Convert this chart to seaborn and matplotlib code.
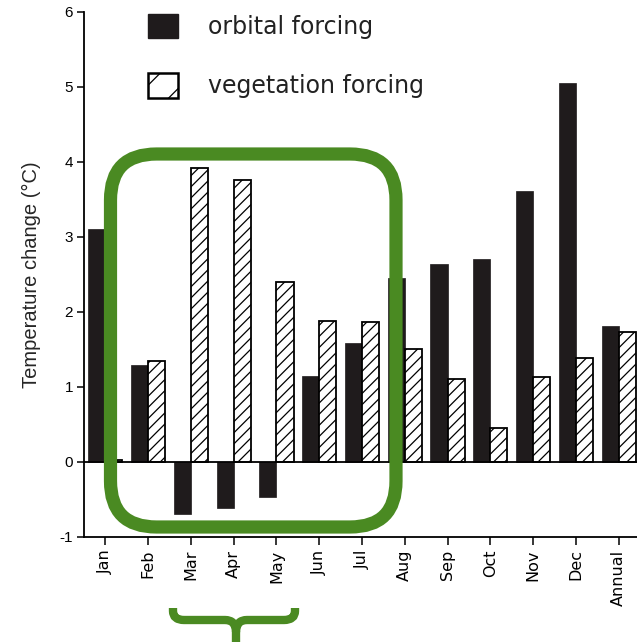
import matplotlib
matplotlib.use("Agg")
import matplotlib.pyplot as plt
import matplotlib.patches as mpatches
from matplotlib.path import Path
from matplotlib.transforms import IdentityTransform
import seaborn as sns
import pandas as pd

# Monthly and annual temperature change from each forcing (°C)
months = ["Jan", "Feb", "Mar", "Apr", "May", "Jun", "Jul",
          "Aug", "Sep", "Oct", "Nov", "Dec", "Annual"]
orbital = [3.10, 1.29, -0.70, -0.62, -0.47, 1.14, 1.58,
           2.45, 2.64, 2.70, 3.61, 5.05, 1.81]
vegetation = [0.02, 1.35, 3.91, 3.76, 2.40, 1.88, 1.86,
              1.50, 1.10, 0.45, 1.13, 1.38, 1.73]
series_names = ["orbital forcing", "vegetation forcing"]
y_ticks = [-1, 0, 1, 2, 3, 4, 5, 6]

df = pd.DataFrame({
    "month": months * 2,
    "forcing": [series_names[0]] * len(months) + [series_names[1]] * len(months),
    "change": orbital + vegetation,
})

sns.set_style("ticks")
plt.rcParams["font.family"] = ["Liberation Sans", "DejaVu Sans"]
plt.rcParams["hatch.linewidth"] = 0.9

W, H = 637, 642
fig = plt.figure(figsize=(W / 100, H / 100), dpi=100)
ax = fig.add_axes([84 / W, 105 / H, 1 - 84 / W, (537 - 11.6) / H])

dark = "#1f1b1c"
sns.barplot(data=df, x="month", y="change", hue="forcing", order=months,
            hue_order=series_names, palette=[dark, "white"], width=0.8,
            errorbar=None, saturation=1, legend=False, ax=ax, zorder=2)

for bar in ax.containers[0]:
    bar.set_edgecolor(dark)
    bar.set_linewidth(0.5)
for bar in ax.containers[1]:
    bar.set_hatch("///")
    bar.set_edgecolor("black")
    bar.set_linewidth(1.3)

ax.axhline(0, color="black", lw=1.3, zorder=3)
ax.set_xlim(-0.5, 12.43)
ax.set_ylim(-1, 6)
ax.set_yticks(y_ticks)
ax.set_yticklabels([str(t) for t in y_ticks])
ax.tick_params(axis="y", direction="out", length=5, width=1.1, labelsize=11,
               pad=3, colors="black")
ax.tick_params(axis="x", direction="out", length=6, width=1.1, labelsize=11.5,
               pad=3, rotation=90, colors="black")
for lbl in ax.get_xticklabels():
    lbl.set_family(["DejaVu Sans"])
ax.set_xlabel("")
ax.set_ylabel("Temperature change (°C)", fontsize=14.5, labelpad=13,
              family=["Liberation Sans"])
sns.despine(ax=ax, top=True, right=True)
for side in ("left", "bottom"):
    ax.spines[side].set_linewidth(1.3)
    ax.spines[side].set_color("black")

# Legend
handles = [
    mpatches.Patch(facecolor=dark, edgecolor=dark, label=series_names[0]),
    mpatches.Patch(facecolor="white", edgecolor="black", hatch="/", lw=1.8,
                   label=series_names[1]),
]
leg = ax.legend(handles=handles, loc="upper left", frameon=False,
                bbox_to_anchor=(148 / W, 1 - 14 / H),
                bbox_transform=fig.transFigure,
                borderaxespad=0, borderpad=0,
                prop={"family": ["DejaVu Sans"], "size": 17},
                handlelength=1.27, handleheight=1.2, handletextpad=1.25,
                labelspacing=1.45)
for t in leg.get_texts():
    t.set_color("#222222")

green = "#4a8a22"
# Rounded box around Feb-Jul (pixel coordinates, y measured from bottom)
box = mpatches.FancyBboxPatch((110.5, H - 527), 396 - 110.5, 527 - 154,
                              boxstyle="round,pad=0,rounding_size=46",
                              transform=IdentityTransform(), fill=False,
                              edgecolor=green, lw=9.5, zorder=10)
fig.patches.append(box)

# Curly brace under Mar-May
def py(y):
    return H - y

brace_verts = [
    (173, py(608)), (173, py(611)), (173, py(620)), (184, py(620)),
    (225, py(620)), (236, py(620)), (236, py(632)), (236, py(660)),
    (295, py(608)), (295, py(611)), (295, py(620)), (284, py(620)),
    (247, py(620)), (236, py(620)), (236, py(632)),
]
brace_codes = [
    Path.MOVETO, Path.LINETO, Path.CURVE3, Path.CURVE3,
    Path.LINETO, Path.CURVE3, Path.CURVE3, Path.LINETO,
    Path.MOVETO, Path.LINETO, Path.CURVE3, Path.CURVE3,
    Path.LINETO, Path.CURVE3, Path.CURVE3,
]
brace = mpatches.PathPatch(Path(brace_verts, brace_codes), fill=False,
                           edgecolor=green, lw=6, capstyle="butt",
                           joinstyle="round", transform=IdentityTransform(),
                           zorder=10)
fig.patches.append(brace)

fig.savefig("out.png", dpi=100)
